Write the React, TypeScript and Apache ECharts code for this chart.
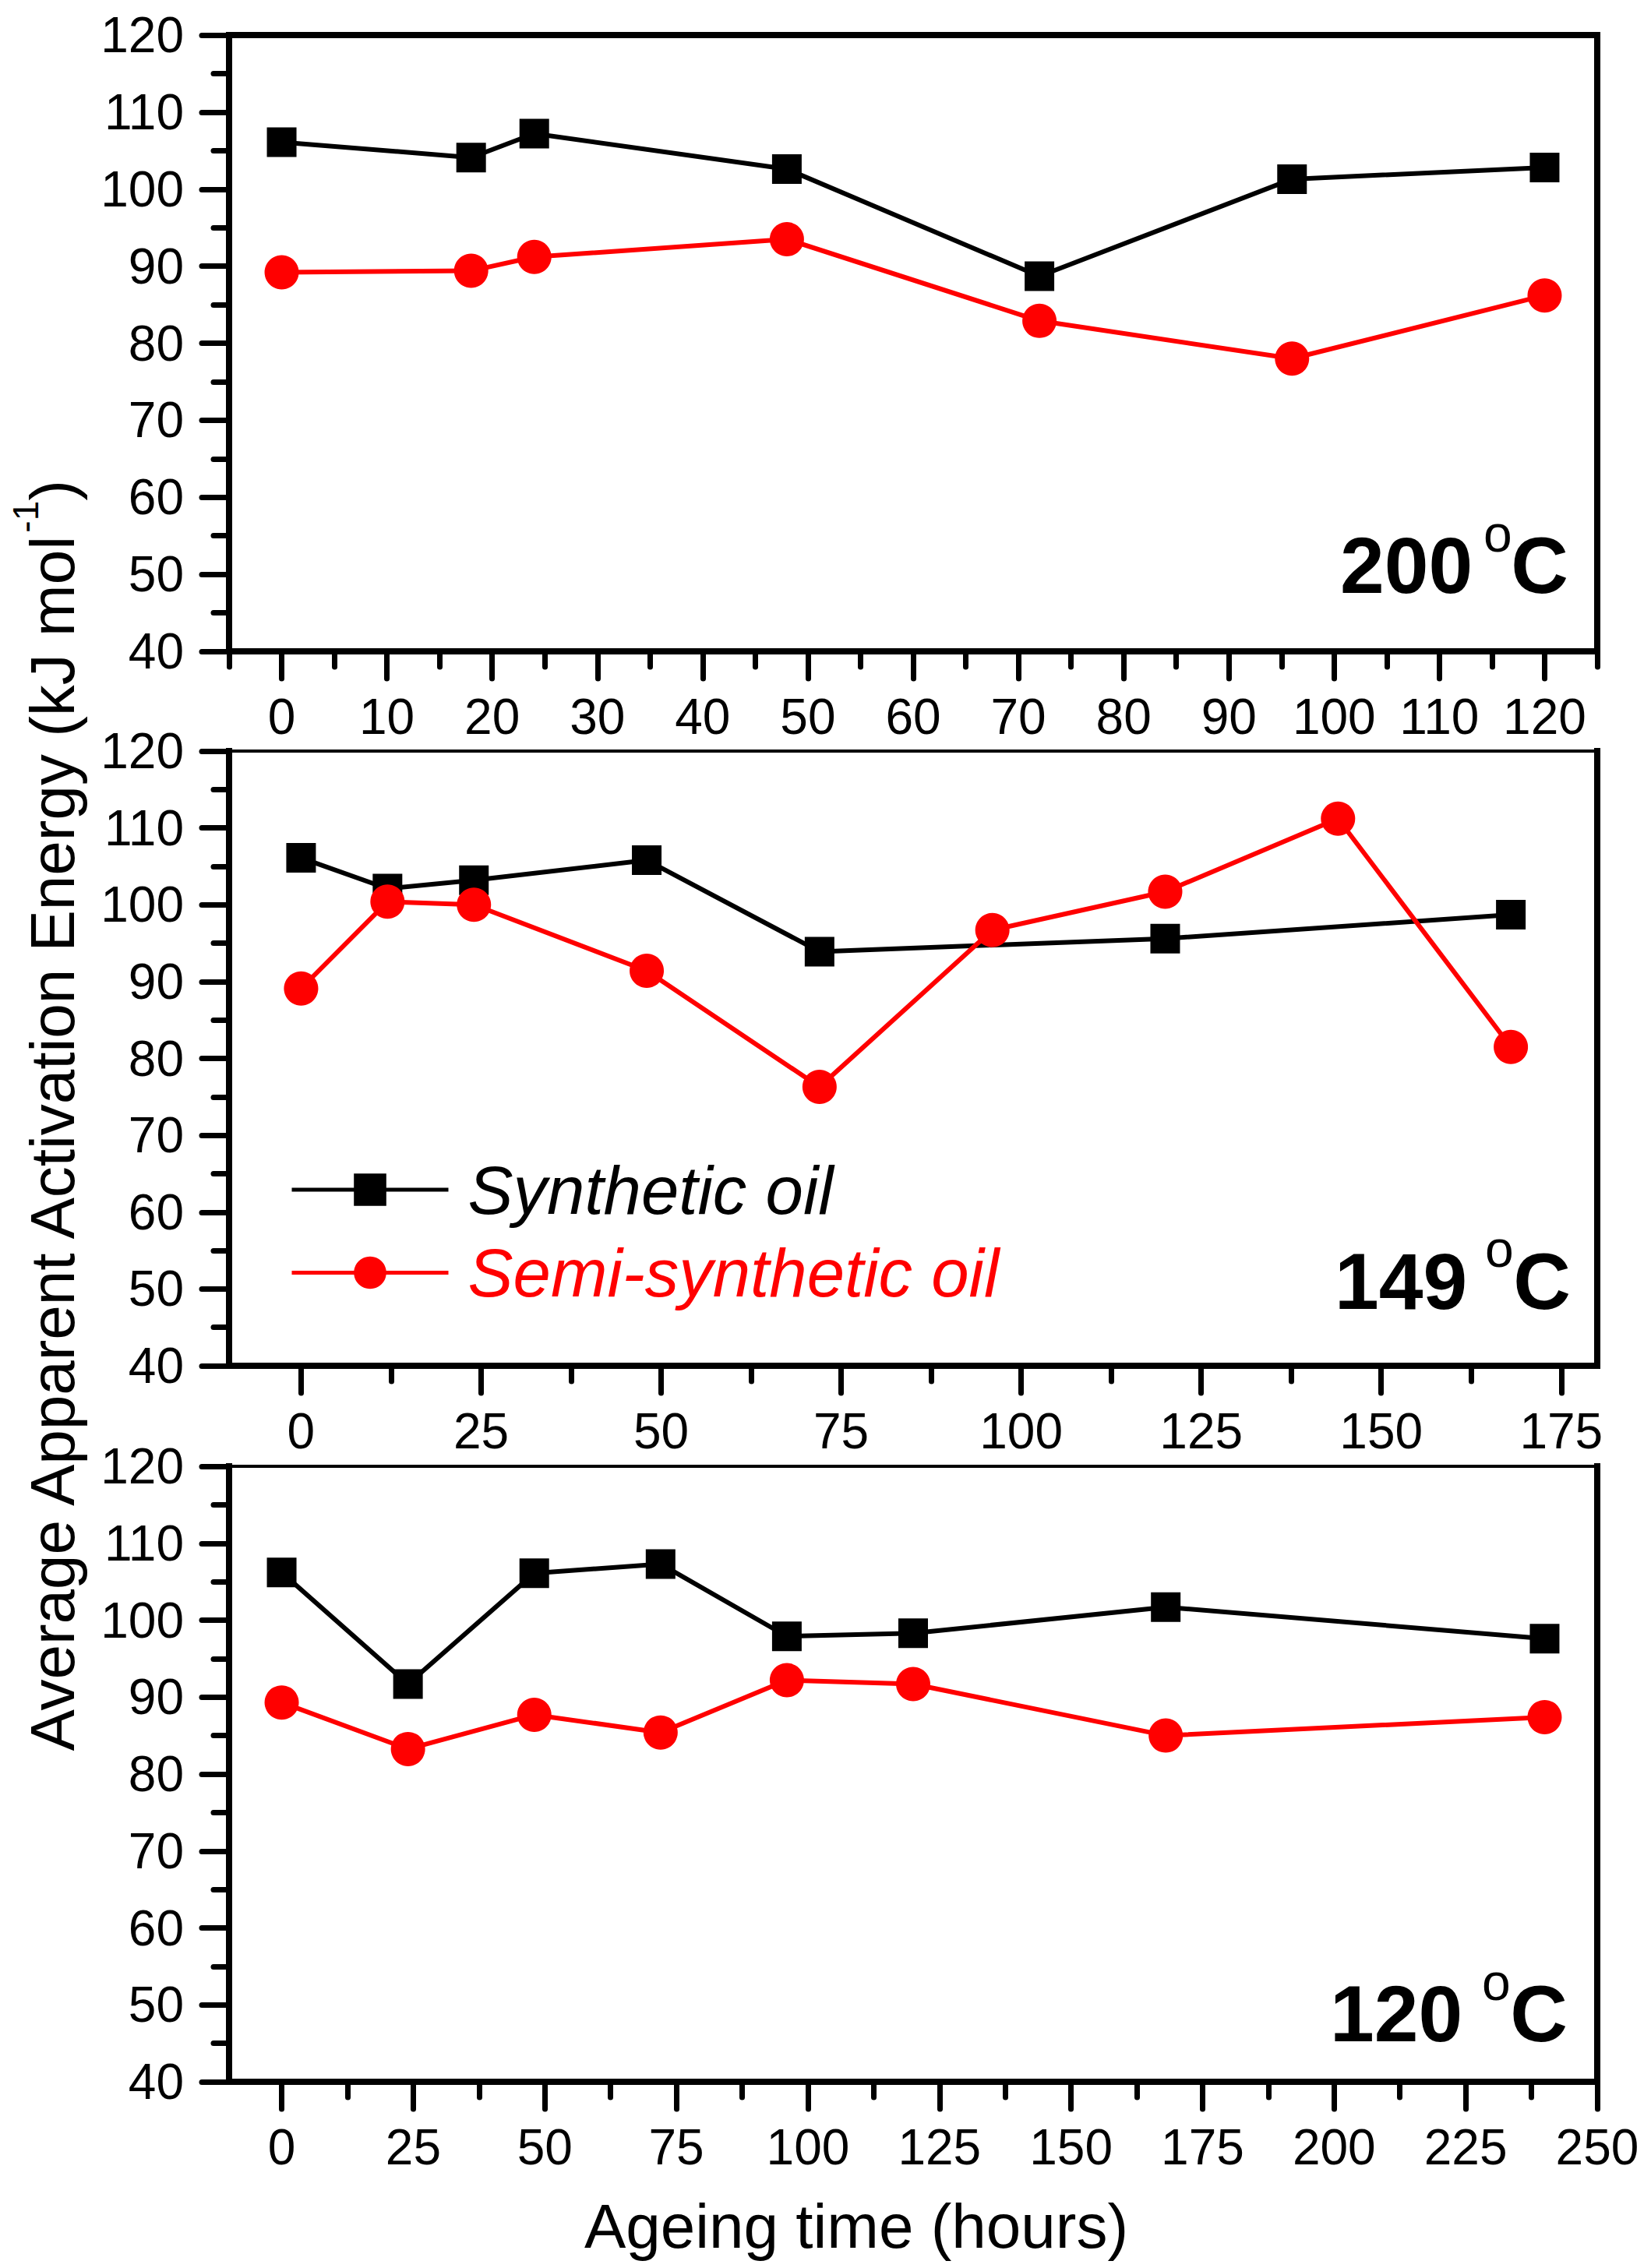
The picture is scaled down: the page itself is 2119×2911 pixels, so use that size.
import React, { useEffect, useRef } from "react";
import * as echarts from "echarts";

const FONT = "'Liberation Sans', Arial, Helvetica, sans-serif";

// ---- data ----
const hours200 = [0, 18, 24, 48, 72, 96, 120];
const synthetic200 = [106.1, 104.1, 107.2, 102.6, 88.7, 101.3, 102.8];
const semi200 = [89.2, 89.4, 91.2, 93.5, 82.9, 78.0, 86.2];

const hours149Syn = [0, 12, 24, 48, 72, 120, 168];
const synthetic149 = [106.1, 102.1, 103.2, 105.8, 93.9, 95.6, 98.7];
const hours149Semi = [0, 12, 24, 48, 72, 96, 120, 144, 168];
const semi149 = [89.1, 100.4, 100.0, 91.4, 76.3, 96.7, 101.7, 111.2, 81.5];

const hours120 = [0, 24, 48, 72, 96, 120, 168, 240];
const synthetic120 = [106.2, 91.7, 106.1, 107.3, 97.9, 98.3, 101.7, 97.6];
const semi120 = [89.3, 83.25, 87.7, 85.4, 92.2, 91.7, 85.0, 87.4];

// ---- tick labels ----
const ticks200 = [0, 10, 20, 30, 40, 50, 60, 70, 80, 90, 100, 110, 120];
const minor200 = [-5, 5, 15, 25, 35, 45, 55, 65, 75, 85, 95, 105, 115, 125];
const ticks149 = [0, 25, 50, 75, 100, 125, 150, 175];
const minor149 = [12.5, 37.5, 62.5, 87.5, 112.5, 137.5, 162.5];
const ticks120 = [0, 25, 50, 75, 100, 125, 150, 175, 200, 225, 250];
const minor120 = [12.5, 37.5, 62.5, 87.5, 112.5, 137.5, 162.5, 187.5, 212.5, 237.5];

const seriesNames = ["Synthetic oil", "Semi-synthetic oil"];
const temperatures = ["200", "149", "120"];

const pairs = (xs: number[], ys: number[]) => xs.map((x, i) => [x, ys[i]]);

const panels = [
  {
    grid: { left: 294, top: 45, width: 1756, height: 791 },
    xMin: -5, xMax: 125, major: ticks200, minor: minor200, topWidth: 8,
    syn: pairs(hours200, synthetic200), semi: pairs(hours200, semi200),
    label: { numX: 1720, cy: 725.7, oX: 1904, oY: 684.5, cX: 2013 },
  },
  {
    grid: { left: 294, top: 964, width: 1756, height: 789 },
    xMin: -10, xMax: 180, major: ticks149, minor: minor149, topWidth: 4,
    syn: pairs(hours149Syn, synthetic149), semi: pairs(hours149Semi, semi149),
    label: { numX: 1713, cy: 1645.3, oX: 1906, oY: 1602.5, cX: 2016 },
  },
  {
    grid: { left: 294, top: 1882, width: 1756, height: 790 },
    xMin: -10, xMax: 250, major: ticks120, minor: minor120, topWidth: 4,
    syn: pairs(hours120, synthetic120), semi: pairs(hours120, semi120),
    label: { numX: 1707, cy: 2584.7, oX: 1902, oY: 2543.5, cX: 2012 },
  },
];

const BLACK = "#000000";
const RED = "#ff0000";
const AXIS_W = 8;
const TICK_W = 7;
const LINE_W = 6;

function buildOption() {
  const grid: any[] = [];
  const xAxis: any[] = [];
  const yAxis: any[] = [];
  const series: any[] = [];
  const graphic: any[] = [];

  panels.forEach((p, i) => {
    grid.push({ ...p.grid, containLabel: false, outerBoundsMode: "none" });
    // main bottom axis: major ticks + labels
    xAxis.push({
      type: "value", gridIndex: i, position: "bottom", min: p.xMin, max: p.xMax,
      axisLine: { show: true, onZero: false, lineStyle: { color: BLACK, width: AXIS_W, cap: "square" } },
      axisTick: { show: true, inside: false, length: 35, customValues: p.major, lineStyle: { color: BLACK, width: TICK_W, cap: "round" } },
      axisLabel: { show: true, customValues: p.major, margin: 52, fontSize: 64, fontFamily: FONT, color: BLACK },
      splitLine: { show: false },
    });
    // minor ticks
    xAxis.push({
      type: "value", gridIndex: i, position: "bottom", min: p.xMin, max: p.xMax,
      axisLine: { show: false, onZero: false },
      axisTick: { show: true, inside: false, length: 20, customValues: p.minor, lineStyle: { color: BLACK, width: TICK_W, cap: "round" } },
      axisLabel: { show: false },
      splitLine: { show: false },
    });
    // top frame line
    xAxis.push({
      type: "value", gridIndex: i, position: "top", min: p.xMin, max: p.xMax,
      axisLine: { show: true, onZero: false, lineStyle: { color: BLACK, width: p.topWidth, cap: "square" } },
      axisTick: { show: false }, axisLabel: { show: false }, splitLine: { show: false },
    });
    yAxis.push({
      type: "value", gridIndex: i, position: "left", min: 40, max: 120, interval: 10,
      axisLine: { show: true, onZero: false, lineStyle: { color: BLACK, width: AXIS_W, cap: "square" } },
      axisTick: { show: true, inside: false, length: 35, lineStyle: { color: BLACK, width: TICK_W, cap: "round" } },
      minorTick: { show: true, splitNumber: 2, length: 20, lineStyle: { color: BLACK, width: TICK_W, cap: "round" } },
      axisLabel: { show: true, margin: 58, fontSize: 64, fontFamily: FONT, color: BLACK },
      splitLine: { show: false }, minorSplitLine: { show: false },
    });
    yAxis.push({
      type: "value", gridIndex: i, position: "right", min: 40, max: 120,
      axisLine: { show: true, onZero: false, lineStyle: { color: BLACK, width: AXIS_W, cap: "square" } },
      axisTick: { show: false }, axisLabel: { show: false }, splitLine: { show: false },
    });

    series.push({
      type: "line", name: seriesNames[0], xAxisIndex: 3 * i, yAxisIndex: 2 * i,
      data: p.syn, symbol: "rect", symbolSize: 38,
      itemStyle: { color: BLACK }, lineStyle: { color: BLACK, width: LINE_W },
      emphasis: { disabled: true }, z: 3,
    });
    series.push({
      type: "line", name: seriesNames[1], xAxisIndex: 3 * i, yAxisIndex: 2 * i,
      data: p.semi, symbol: "circle", symbolSize: 44,
      itemStyle: { color: RED }, lineStyle: { color: RED, width: LINE_W },
      emphasis: { disabled: true }, z: 4,
    });

    const L = p.label;
    graphic.push(
      { type: "text", x: L.numX, y: L.cy, style: { text: temperatures[i], fontSize: 102, fontWeight: "bold", fontFamily: FONT, fill: BLACK, textAlign: "left", textVerticalAlign: "middle" } },
      { type: "text", x: L.oX, y: L.oY, style: { text: "o", fontSize: 66, fontFamily: FONT, fill: BLACK, textAlign: "left", textVerticalAlign: "middle" } },
      { type: "text", x: L.cX, y: L.cy, style: { text: "C", fontSize: 102, fontWeight: "bold", fontFamily: FONT, fill: BLACK, textAlign: "right", textVerticalAlign: "middle" } }
    );
  });

  graphic.push({
    type: "text", x: 1099, y: 2857,
    style: { text: "Ageing time (hours)", fontSize: 80, fontFamily: FONT, fill: BLACK, textAlign: "center", textVerticalAlign: "middle" },
  });
  graphic.push({
    type: "text", x: 67, y: 1434, rotation: Math.PI / 2,
    style: {
      text: "{a|Average Apparent Activation Energy (kJ mol}{s|-1}{a|)}",
      textAlign: "center", textVerticalAlign: "middle",
      rich: {
        a: { fontSize: 80, fontFamily: FONT, fill: BLACK, lineHeight: 114 },
        s: { fontSize: 46, fontFamily: FONT, fill: BLACK, lineHeight: 46, verticalAlign: "top" },
      },
    },
  });

  return {
    animation: false,
    backgroundColor: "#ffffff",
    grid, xAxis, yAxis, series, graphic,
    legend: {
      show: true, orient: "vertical", left: 372, top: 1483, padding: 0,
      itemWidth: 201, itemHeight: 52, itemGap: 18.5, selectedMode: false,
      lineStyle: { width: 5 },
      textStyle: { fontSize: 87, fontStyle: "italic", fontFamily: FONT, lineHeight: 88, padding: [0, 0, 0, 20] },
      data: [
        { name: seriesNames[0], textStyle: { color: BLACK } },
        { name: seriesNames[1], textStyle: { color: RED } },
      ],
    },
    tooltip: { show: false },
  };
}

export default function App() {
  const ref = useRef<HTMLDivElement>(null);
  useEffect(() => {
    if (!ref.current) return;
    const chart = echarts.init(ref.current, null, { renderer: "svg", width: 2119, height: 2911 });
    chart.setOption(buildOption() as any);
    return () => chart.dispose();
  }, []);
  return (
    <div
      ref={ref}
      style={{ position: "absolute", left: 0, top: 0, width: 2119, height: 2911, background: "#fff" }}
    />
  );
}
